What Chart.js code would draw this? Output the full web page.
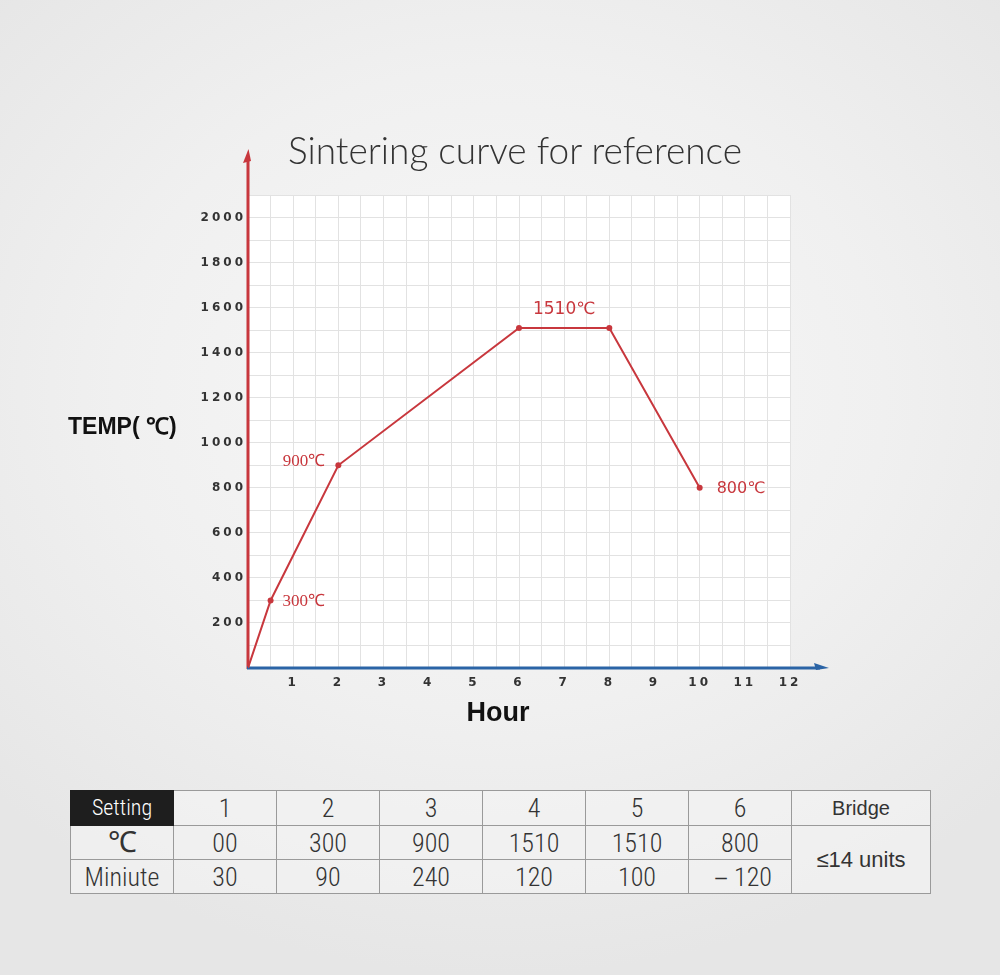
<!DOCTYPE html>
<html>
<head>
<meta charset="utf-8">
<script src="https://cdn.jsdelivr.net/npm/chart.js@4.4.1/dist/chart.umd.min.js"></script>
<style>
  html, body { margin: 0; padding: 0; }
  body {
    width: 1000px; height: 975px; position: relative; overflow: hidden;
    background: radial-gradient(ellipse 70% 60% at 50% 40%, #f8f8f8 0%, #f0f0f0 55%, #e6e6e6 100%);
    font-family: "Liberation Sans", Arial, sans-serif;
  }
  #chartWrap { position: absolute; left: 0; top: 0; width: 1000px; height: 760px; }
  #title {
    position: absolute; left: 215px; width: 600px; top: 126px; text-align: center;
    font-family: Lato, "Open Sans", sans-serif; font-weight: 300; font-size: 37px;
    color: #333; line-height: 48px; white-space: nowrap;
  }
  #ylabel {
    position: absolute; left: 68px; top: 411px; font-weight: bold; font-size: 23px;
    color: #111; line-height: 30px; white-space: nowrap;
  }
  #xlabel {
    position: absolute; left: 440px; width: 116px; text-align: center; top: 696px;
    font-weight: bold; font-size: 27px; color: #111; line-height: 32px;
  }
  table {
    position: absolute; left: 70px; top: 790px; border-collapse: collapse;
    font-family: "Liberation Sans Narrow", "Roboto Condensed", Roboto, sans-serif;
    color: #333; table-layout: fixed;
  }
  td {
    border: 1px solid #9a9a9a; text-align: center; padding: 0; font-size: 26px;
    font-weight: 300; background: rgba(245,245,245,0.6); line-height: 1;
    overflow: hidden;
  }
  tr.r1 td { height: 34px; }
  tr.r2 td, tr.r3 td { height: 33px; }
  td.head { background: #1e1e1e; color: #fff; font-size: 22px; border-color: #1e1e1e; }
  td.deg { font-family: "Liberation Serif", serif; font-size: 29px; }
  td.bridge { font-family: "Liberation Sans", sans-serif; font-size: 20px; }
  td.units { font-family: "Liberation Sans", sans-serif; font-size: 22px; }
</style>
</head>
<body>
<div id="chartWrap"><canvas id="c" width="1000" height="760"></canvas></div>
<div id="title">Sintering curve for reference</div>
<div id="ylabel">TEMP( ℃)</div>
<div id="xlabel">Hour</div>
<table id="tbl"></table>
<script>
// ---- chart data ----
const hours = [0, 0.5, 2, 6, 8, 10];
const temps = [0, 300, 900, 1510, 1510, 800];
const pointLabels = ['', '300℃', '900℃', '1510℃', '', '800℃'];
const labelPlacement = ['none', 'right', 'left', 'plateau', 'none', 'right'];
const xTickLabels = [1, 2, 3, 4, 5, 6, 7, 8, 9, 10, 11, 12];
const yTickLabels = [200, 400, 600, 800, 1000, 1200, 1400, 1600, 1800, 2000];

// ---- table data ----
const settingSteps = ['1', '2', '3', '4', '5', '6'];
const stepTemps = ['00', '300', '900', '1510', '1510', '800'];
const stepMinutes = ['30', '90', '240', '120', '100', '－120'];
const bridgeText = '≤14 units';

// build table
(function(){
  const t = document.getElementById('tbl');
  const colW = [103,103,103,103,103,103,103,139];
  let cg = '<colgroup>' + colW.map(w => '<col style="width:' + w + 'px">').join('') + '</colgroup>';
  let r1 = '<tr class="r1"><td class="head">Setting</td>' + settingSteps.map(s => '<td>' + s + '</td>').join('') + '<td class="bridge">Bridge</td></tr>';
  let r2 = '<tr class="r2"><td class="deg">℃</td>' + stepTemps.map(s => '<td>' + s + '</td>').join('') + '<td class="units" rowspan="2">' + bridgeText + '</td></tr>';
  let r3 = '<tr class="r3"><td>Miniute</td>' + stepMinutes.map(s => '<td>' + s + '</td>').join('') + '</tr>';
  t.innerHTML = cg + r1 + r2 + r3;
})();

const RED = '#c8373d';
const BLUE = '#2b64a6';

const decorPlugin = {
  id: 'decor',
  beforeDraw(chart) {
    const { ctx, chartArea: a } = chart;
    ctx.save();
    ctx.fillStyle = '#ffffff';
    ctx.fillRect(a.left, a.top, a.right - a.left, a.bottom - a.top);
    ctx.restore();
    ctx.letterSpacing = '3px';
  },
  beforeDatasetsDraw(chart) {
    const { ctx, chartArea: a } = chart;
    ctx.letterSpacing = '0px';
    ctx.save();
    // y axis (red) with arrow
    ctx.strokeStyle = RED; ctx.fillStyle = RED; ctx.lineWidth = 3;
    ctx.beginPath(); ctx.moveTo(a.left, a.bottom + 1); ctx.lineTo(a.left, a.top - 38); ctx.stroke();
    ctx.beginPath(); ctx.moveTo(a.left + 0.5, a.top - 46); ctx.lineTo(a.left - 5, a.top - 32); ctx.lineTo(a.left + 3, a.top - 34); ctx.closePath(); ctx.fill();
    // x axis (blue) with arrow
    ctx.strokeStyle = BLUE; ctx.fillStyle = BLUE;
    ctx.beginPath(); ctx.moveTo(a.left - 1, a.bottom); ctx.lineTo(a.right + 30, a.bottom); ctx.stroke();
    ctx.beginPath(); ctx.moveTo(a.right + 39, a.bottom); ctx.lineTo(a.right + 24, a.bottom - 5); ctx.lineTo(a.right + 26, a.bottom + 2); ctx.closePath(); ctx.fill();
    ctx.restore();
  },
  afterDatasetsDraw(chart) {
    const { ctx } = chart;
    const pts = chart.getDatasetMeta(0).data;
    ctx.save();
    ctx.fillStyle = RED;
    ctx.textBaseline = 'middle';
    pointLabels.forEach((txt, i) => {
      if (!txt) return;
      const p = pts[i];
      const place = labelPlacement[i];
      if (place === 'right') {
        ctx.textAlign = 'left';
        ctx.font = (i === 1 ? '17px "Liberation Serif", serif' : '16px "DejaVu Sans", sans-serif');
        ctx.fillText(txt, p.x + (i === 1 ? 12 : 17), p.y + 1);
      } else if (place === 'left') {
        ctx.textAlign = 'right';
        ctx.font = '17px "Liberation Serif", serif';
        ctx.fillText(txt, p.x - 13, p.y - 4);
      } else if (place === 'plateau') {
        const q = pts[i + 1];
        ctx.textAlign = 'center';
        ctx.font = '17px "DejaVu Sans", sans-serif';
        ctx.fillText(txt, (p.x + q.x) / 2, p.y - 18);
      }
    });
    ctx.restore();
  }
};

new Chart(document.getElementById('c'), {
  type: 'line',
  data: {
    datasets: [{
      data: hours.map((h, i) => ({ x: h, y: temps[i] })),
      borderColor: RED,
      backgroundColor: RED,
      borderWidth: 2,
      pointRadius: hours.map((h, i) => i === 0 ? 0 : 3),
      pointBorderWidth: 0,
      tension: 0,
      fill: false
    }]
  },
  options: {
    responsive: false,
    animation: false,
    events: [],
    layout: { padding: { left: 190, top: 195, right: 210, bottom: 62 } },
    plugins: { legend: { display: false }, title: { display: false }, tooltip: { enabled: false } },
    scales: {
      x: {
        type: 'linear', min: 0, max: 12,
        border: { display: false },
        grid: { color: '#e2e2e2', lineWidth: 1, drawTicks: false },
        ticks: {
          stepSize: 0.5, autoSkip: false, maxRotation: 0, padding: 8,
          color: '#333', font: { family: '"DejaVu Sans", sans-serif', weight: 'bold', size: 12 },
          callback: v => xTickLabels.includes(v) ? String(v) : ''
        },
        afterFit: s => { s.height = 30; s.paddingLeft = 0; s.paddingRight = 0; }
      },
      y: {
        type: 'linear', min: 0, max: 2100,
        border: { display: false },
        grid: { color: '#e2e2e2', lineWidth: 1, drawTicks: false },
        ticks: {
          stepSize: 100, autoSkip: false, padding: 2,
          color: '#333', font: { family: '"DejaVu Sans", sans-serif', weight: 'bold', size: 12 },
          callback: v => yTickLabels.includes(v) ? String(v) : ''
        },
        afterFit: s => { s.width = 58; s.paddingTop = 0; s.paddingBottom = 0; }
      }
    }
  },
  plugins: [decorPlugin]
});
</script>
</body>
</html>
